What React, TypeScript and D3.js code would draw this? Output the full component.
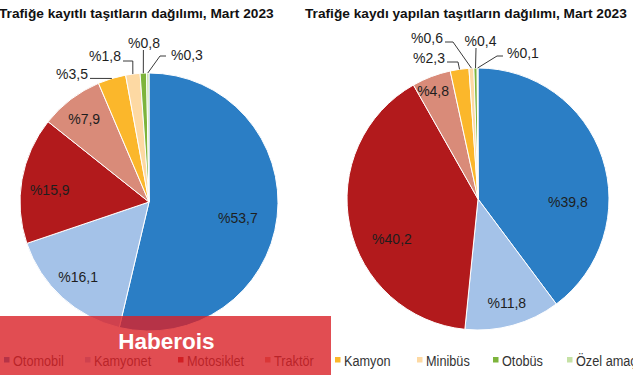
import React from "react";
import * as d3 from "d3";

const categories = ["Otomobil", "Kamyonet", "Motosiklet", "Traktör", "Kamyon", "Minibüs", "Otobüs", "Özel amaçlı"];
const colors = ["#2b7ec5", "#a4c2e8", "#b21a1c", "#d98b79", "#fbb72b", "#fdd9a3", "#7db43c", "#c5e1a5"];
const registeredShare = [53.7, 16.1, 15.9, 7.9, 3.5, 1.8, 0.8, 0.3];
const newRegistrationShare = [39.8, 11.8, 40.2, 4.8, 2.3, 0.6, 0.4, 0.1];
const titles = [
  "Trafiğe kayıtlı taşıtların dağılımı, Mart 2023",
  "Trafiğe kaydı yapılan taşıtların dağılımı, Mart 2023",
];
const watermark = "Haberois";

type Inside = { a: number; rf: number };
type Outside = { anchor: string; tx: number; ty: number; pts: [number, number][] };

const charts = [
  {
    values: registeredShare,
    title: titles[0],
    titleX: -1,
    cx: 149,
    cy: 202,
    r: 129,
    inside: [
      { a: 3.5, rf: 0.7 },
      { a: 1.1, rf: 0.8 },
      { a: -3, rf: 0.775 },
      { a: -0.8, rf: 0.815 },
    ] as Inside[],
    outside: [
      { anchor: "end", tx: -61, ty: -123, pts: [[-59, -123.6]] },
      { anchor: "end", tx: -28, ty: -141, pts: [[-16.2, -141], [-26, -141]] },
      { anchor: "middle", tx: -5, ty: -154, pts: [[-5.6, -152]] },
      { anchor: "start", tx: 22, ty: -142, pts: [[11, -146], [17, -146]] },
    ] as Outside[],
  },
  {
    values: newRegistrationShare,
    title: titles[1],
    titleX: 305,
    cx: 478,
    cy: 199,
    r: 131,
    inside: [
      { a: 20.4, rf: 0.687 },
      { a: 0, rf: 0.824 },
      { a: -13, rf: 0.724 },
      { a: -1.7, rf: 0.893 },
    ] as Inside[],
    outside: [
      { anchor: "end", tx: -33, ty: -136, pts: [[-20, -137], [-31, -137]] },
      { anchor: "end", tx: -35, ty: -156, pts: [[-25, -157], [-33, -157]] },
      { anchor: "middle", tx: 2.5, ty: -153, pts: [[-2, -151]] },
      { anchor: "start", tx: 29, ty: -141, pts: [[19, -143], [25, -143]] },
    ] as Outside[],
  },
];

const legendTextX = [13, 94, 187, 274, 344, 426, 502, 576];

const fmt = (v: number) => "%" + v.toFixed(1).replace(".", ",");

function Pie({ c }: { c: (typeof charts)[number] }) {
  const pie = d3.pie<number>().sort(null).value((d) => d)(c.values);
  const arc = d3.arc<d3.PieArcDatum<number>>().innerRadius(0).outerRadius(c.r);
  const pt = (ang: number, rad: number): [number, number] => [rad * Math.sin(ang), -rad * Math.cos(ang)];
  return (
    <g>
      <text
        x={c.titleX}
        y={18}
        fontFamily="'Liberation Sans', Arial, sans-serif"
        fontWeight="bold"
        fontSize={13.7}
        fill="#111"
      >
        {c.title}
      </text>
      <g transform={`translate(${c.cx},${c.cy})`}>
        {pie.map((s, i) => (
          <path key={i} d={arc(s) || ""} fill={colors[i]} stroke="#fff" strokeWidth={1} />
        ))}
        {pie.map((s, i) => {
          const mid = (s.startAngle + s.endAngle) / 2;
          if (i < c.inside.length) {
            const cfg = c.inside[i];
            const [x, y] = pt(mid + (cfg.a * Math.PI) / 180, c.r * cfg.rf);
            return (
              <text
                key={"l" + i}
                x={x}
                y={y}
                dy="0.36em"
                textAnchor="middle"
                fontFamily="'Liberation Sans', Arial, sans-serif"
                fontSize={14}
                fill="#1e1e1e"
              >
                {fmt(s.data)}
              </text>
            );
          }
          const cfg = c.outside[i - c.inside.length];
          const start = pt(mid, c.r);
          const line = d3.line()([start, ...cfg.pts]);
          return (
            <g key={"o" + i}>
              <path d={line || ""} fill="none" stroke="#3a3a3a" strokeWidth={1} />
              <text
                x={cfg.tx}
                y={cfg.ty}
                textAnchor={cfg.anchor}
                fontFamily="'Liberation Sans', Arial, sans-serif"
                fontSize={14}
                fill="#1e1e1e"
              >
                {fmt(s.data)}
              </text>
            </g>
          );
        })}
      </g>
    </g>
  );
}

export default function App() {
  return (
    <div style={{ position: "fixed", left: 0, top: 0 }}>
      <svg width={633} height={375} style={{ display: "block", background: "#fff" }}>
        <rect width={633} height={375} fill="#fff" />
        {charts.map((c, i) => (
          <Pie key={i} c={c} />
        ))}
        <g>
          {categories.map((name, i) => (
            <g key={name}>
              <rect x={legendTextX[i] - 9} y={357} width={5.5} height={5.5} fill={colors[i]} />
              <text
                transform={`translate(${legendTextX[i]},366) scale(0.82,1)`}
                fontFamily="'Liberation Sans', Arial, sans-serif"
                fontSize={15.5}
                fill="#333"
              >
                {name}
              </text>
            </g>
          ))}
        </g>
        <rect x={0} y={316} width={331} height={59} fill="#d92027" opacity={0.8} />
        <text
          x={166.5}
          y={349}
          textAnchor="middle"
          fontFamily="'Liberation Sans', Arial, sans-serif"
          fontWeight="bold"
          fontSize={22.5}
          fill="#fff"
        >
          {watermark}
        </text>
      </svg>
    </div>
  );
}
